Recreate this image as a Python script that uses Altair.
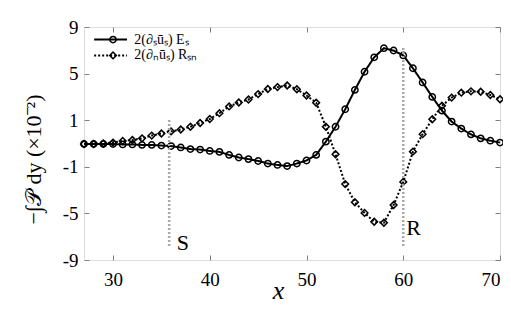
import altair as alt
import pandas as pd

# ---- data (display units on the y axis: tick positions -5..5 carry labels -9..9) ----
x_vals = list(range(27, 71))
es_vals = [-0.02, -0.02, -0.02, -0.02, -0.04, -0.04, -0.06, -0.06, -0.09, -0.11,
           -0.17, -0.24, -0.26, -0.32, -0.36, -0.49, -0.60, -0.67, -0.75, -0.86,
           -0.92, -0.97, -0.86, -0.73, -0.49, 0.08, 0.72, 1.47, 2.30, 3.08,
           3.70, 4.09, 3.99, 3.78, 3.23, 2.62, 2.00, 1.41, 0.94, 0.64,
           0.39, 0.22, 0.12, 0.04]
rsn_vals = [-0.02, -0.02, 0.00, 0.04, 0.11, 0.15, 0.22, 0.34, 0.43, 0.52,
            0.60, 0.72, 0.88, 1.05, 1.30, 1.59, 1.76, 1.89, 2.12, 2.34,
            2.42, 2.49, 2.33, 2.06, 1.75, 0.72, -0.46, -1.74, -2.52, -2.98,
            -3.36, -3.40, -2.64, -1.65, -0.35, 0.40, 1.04, 1.62, 1.97, 2.18,
            2.24, 2.22, 2.08, 1.90]
series_names = ["2(∂ₛūₛ) Eₛ", "2(∂ₙūₛ) Rₛₙ"]

x_ticks = [30, 40, 50, 60, 70]
y_tick_pos = [-5, -3, -1, 1, 3, 5]
y_tick_labels = ["-9", "-5", "-1", "1", "5", "9"]

mark_names = ["S", "R"]
mark_x = [35.8, 60.0]
mark_y_top = [1.01, 4.10]
mark_y_bot = [-4.48, -4.48]
mark_label_x = [36.6, 60.3]
mark_label_y = [-4.57, -3.93]

# legend key placement (data units, top-left corner of the plot)
legend_x0, legend_xm, legend_x1, legend_xt = 28.05, 30.0, 31.45, 32.2
legend_rows = [4.46, 3.78]

# ---- tables ----
df = pd.DataFrame({
    "x": x_vals * 2,
    "v": es_vals + rsn_vals,
    "series": [series_names[0]] * len(x_vals) + [series_names[1]] * len(x_vals),
})
ann = pd.DataFrame({"name": mark_names, "x": mark_x, "y1": mark_y_top, "y2": mark_y_bot,
                    "lx": mark_label_x, "ly": mark_label_y})
leg = pd.DataFrame({"series": series_names, "y": legend_rows,
                    "x0": [legend_x0] * 2, "x1": [legend_x1] * 2,
                    "xm": [legend_xm] * 2, "xt": [legend_xt] * 2})

W, H = 416, 233
SERIF = "Liberation Serif"
GRAY = "#808080"

xscale = alt.Scale(domain=[27, 70], nice=False, zero=False)
yscale = alt.Scale(domain=[-5, 5], nice=False, zero=False)
dash_scale = alt.Scale(domain=series_names, range=[[1, 0], [2, 2]])

label_expr = " : ".join(
    f"datum.value == {p} ? '{l}'" for p, l in zip(y_tick_pos, y_tick_labels)
) + " : ''"

# main axes (labels + titles, no ticks)
x_main = alt.Axis(orient="bottom", values=x_ticks, ticks=False, domain=False, grid=False,
                  labelFont=SERIF, labelFontSize=19, labelColor="black", labelPadding=10,
                  title="x", titleFont=SERIF, titleFontSize=26, titleFontStyle="italic",
                  titleFontWeight="normal", titleX=194, titleY=38, titleBaseline="alphabetic",
                  titleAlign="center", titleColor="black")
y_main = alt.Axis(orient="left", values=y_tick_pos, labelExpr=label_expr, ticks=False,
                  domain=False, grid=False, labelFont=SERIF, labelFontSize=19,
                  labelColor="black", labelPadding=6,
                  title="−∫𝒫 dy (×10⁻²)", titleFont=SERIF, titleFontSize=22,
                  titleFontWeight="normal", titleAngle=-90, titleX=-51, titleY=132,
                  titleAlign="center", titleBaseline="middle", titleColor="black")

def tick_axis(orient, values, offset):
    return alt.Axis(orient=orient, values=values, offset=offset, labels=False, domain=False,
                    grid=False, ticks=True, tickSize=5, tickColor=GRAY, tickWidth=1, title=None)

lines = alt.Chart(df).mark_line(color="black", strokeWidth=2).encode(
    x=alt.X("x:Q", scale=xscale, axis=x_main),
    y=alt.Y("v:Q", scale=yscale, axis=y_main),
    strokeDash=alt.StrokeDash("series:N", scale=dash_scale, legend=None),
    detail="series:N",
)

circles = alt.Chart(df).transform_filter(
    alt.datum.series == series_names[0]
).mark_point(shape="circle", size=40, color="black", strokeWidth=1.5, filled=False, opacity=1).encode(
    x=alt.X("x:Q", scale=xscale, axis=tick_axis("top", x_ticks, -H)),
    y=alt.Y("v:Q", scale=yscale, axis=tick_axis("right", y_tick_pos, -W)),
)

diamonds = alt.Chart(df).transform_filter(
    alt.datum.series == series_names[1]
).mark_point(shape="diamond", size=45, color="black", strokeWidth=1.5, filled=False, opacity=1).encode(
    x=alt.X("x:Q", scale=xscale, axis=tick_axis("bottom", x_ticks, -H)),
    y=alt.Y("v:Q", scale=yscale, axis=tick_axis("left", y_tick_pos, -W)),
)

rules = alt.Chart(ann).mark_rule(color="#a8a8a8", strokeWidth=2.5, strokeDash=[2, 2]).encode(
    x=alt.X("x:Q", scale=xscale, axis=None),
    y=alt.Y("y1:Q", scale=yscale, axis=None),
    y2="y2:Q",
)

labels = alt.Chart(ann).mark_text(align="left", baseline="alphabetic", font=SERIF,
                                  fontSize=22, color="black").encode(
    x=alt.X("lx:Q", scale=xscale, axis=None),
    y=alt.Y("ly:Q", scale=yscale, axis=None),
    text="name:N",
)

# ---- legend key ----
leg_lines = alt.Chart(leg).mark_rule(color="black", strokeWidth=2).encode(
    x=alt.X("x0:Q", scale=xscale, axis=None),
    x2="x1:Q",
    y=alt.Y("y:Q", scale=yscale, axis=None),
    strokeDash=alt.StrokeDash("series:N", scale=dash_scale, legend=None),
)
leg_circle = alt.Chart(leg).transform_filter(alt.datum.series == series_names[0]).mark_point(
    shape="circle", size=40, color="black", strokeWidth=1.5, filled=False, opacity=1
).encode(
    x=alt.X("xm:Q", scale=xscale, axis=None),
    y=alt.Y("y:Q", scale=yscale, axis=None),
)
leg_diamond = alt.Chart(leg).transform_filter(alt.datum.series == series_names[1]).mark_point(
    shape="diamond", size=45, color="black", strokeWidth=1.5, filled=False, opacity=1
).encode(
    x=alt.X("xm:Q", scale=xscale, axis=None),
    y=alt.Y("y:Q", scale=yscale, axis=None),
)
leg_text = alt.Chart(leg).mark_text(align="left", baseline="middle", font=SERIF,
                                    fontSize=14, color="black").encode(
    x=alt.X("xt:Q", scale=xscale, axis=None),
    y=alt.Y("y:Q", scale=yscale, axis=None),
    text="series:N",
)

chart = alt.layer(lines, circles, diamonds, rules, labels,
                  leg_lines, leg_circle, leg_diamond, leg_text).resolve_axis(
    x="independent", y="independent"
).properties(
    width=W, height=H,
    autosize=alt.AutoSizeParams(type="none"),
    padding={"left": 76, "top": 19, "right": 3, "bottom": 46},
).configure_view(stroke=GRAY, strokeWidth=1).configure(background="white")

chart.save("out.html", embed_options={"renderer": "svg", "actions": False})
